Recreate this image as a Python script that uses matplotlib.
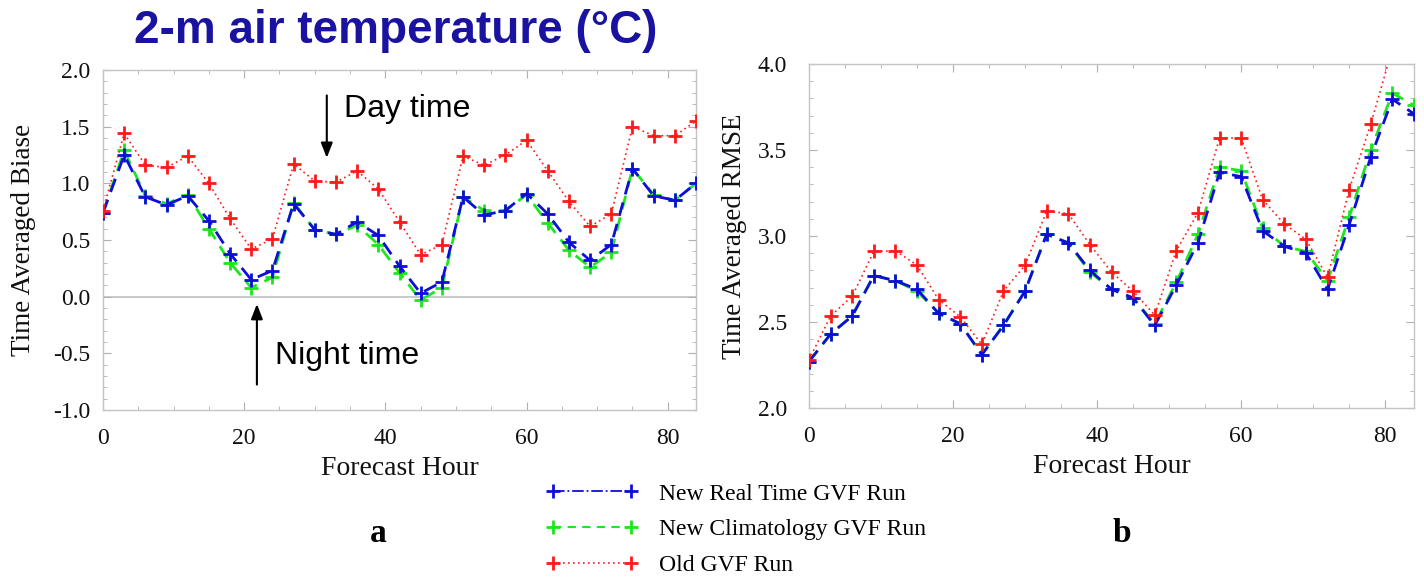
import matplotlib
matplotlib.use("Agg")
import matplotlib.pyplot as plt
from matplotlib.lines import Line2D
from matplotlib.ticker import MultipleLocator

# ---------------- data ----------------
hours = [0, 3, 6, 9, 12, 15, 18, 21, 24, 27, 30, 33, 36, 39, 42,
         45, 48, 51, 54, 57, 60, 63, 66, 69, 72, 75, 78, 81, 84]

real_bias = [0.74, 1.25, 0.88, 0.81, 0.89, 0.67, 0.38, 0.15, 0.23, 0.82, 0.59, 0.55, 0.66, 0.54, 0.27,
             0.03, 0.13, 0.88, 0.72, 0.76, 0.91, 0.73, 0.48, 0.32, 0.46, 1.13, 0.89, 0.85, 1.00]
clim_bias = [0.74, 1.29, 0.89, 0.82, 0.90, 0.60, 0.30, 0.08, 0.17, 0.83, 0.59, 0.55, 0.63, 0.46, 0.21,
             -0.03, 0.08, 0.88, 0.76, 0.76, 0.90, 0.65, 0.41, 0.26, 0.39, 1.13, 0.90, 0.85, 1.00]
old_bias = [0.76, 1.44, 1.16, 1.14, 1.24, 1.00, 0.69, 0.42, 0.51, 1.17, 1.02, 1.01, 1.11, 0.95, 0.66,
            0.37, 0.46, 1.24, 1.16, 1.25, 1.38, 1.11, 0.84, 0.62, 0.73, 1.50, 1.42, 1.42, 1.55]

real_rmse = [2.27, 2.43, 2.535, 2.77, 2.74, 2.69, 2.55, 2.49, 2.31, 2.48, 2.68, 3.01, 2.96, 2.80, 2.69,
             2.64, 2.48, 2.715, 2.96, 3.37, 3.345, 3.03, 2.94, 2.90, 2.69, 3.065, 3.46, 3.795, 3.71]
clim_rmse = [2.27, 2.43, 2.535, 2.77, 2.74, 2.68, 2.55, 2.49, 2.31, 2.48, 2.68, 3.01, 2.96, 2.79, 2.69,
             2.64, 2.49, 2.73, 3.01, 3.40, 3.38, 3.045, 2.94, 2.91, 2.74, 3.11, 3.50, 3.83, 3.76]
old_rmse = [2.28, 2.535, 2.65, 2.91, 2.915, 2.83, 2.63, 2.53, 2.37, 2.68, 2.83, 3.145, 3.13, 2.95, 2.79,
            2.68, 2.54, 2.915, 3.135, 3.57, 3.57, 3.21, 3.07, 2.98, 2.76, 3.27, 3.65, 4.09, 4.12]

series_labels = ["New Real Time GVF Run", "New Climatology GVF Run", "Old GVF Run"]
bias_yticks = [-1.0, -0.5, 0.0, 0.5, 1.0, 1.5, 2.0]
rmse_yticks = [2.0, 2.5, 3.0, 3.5, 4.0]
xticks = [0, 20, 40, 60, 80]

# ---------------- style ----------------
SERIF = ["Liberation Serif", "DejaVu Serif"]
SANS = ["Liberation Sans", "DejaVu Sans"]
BLUE = "#0e0ed8"
GREEN = "#1ee61e"
RED = "#ff1a1a"
FRAME = "#c4c4c4"

W, H = 1424, 579
fig = plt.figure(figsize=(W / 100, H / 100), dpi=100)
fig.patch.set_facecolor("white")


def px_axes(x0, y0, x1, y1):
    return fig.add_axes([x0 / W, 1 - y1 / H, (x1 - x0) / W, (y1 - y0) / H])


def style_axes(ax, ymin, ymax, yticks, ylabel, label_x_px):
    ax.set_xlim(0, 84)
    ax.set_ylim(ymin, ymax)
    ax.set_xticks(xticks)
    ax.set_yticks(yticks)
    ax.set_yticklabels([f"{v:.1f}" for v in yticks])
    ax.xaxis.set_minor_locator(MultipleLocator(5))
    ax.yaxis.set_minor_locator(MultipleLocator(0.1))
    for sp in ax.spines.values():
        sp.set_color(FRAME)
        sp.set_linewidth(1.0)
    ax.tick_params(which="both", direction="in", top=True, right=True,
                   color="#b0b0b0", labelsize=17, labelcolor="#111111")
    ax.tick_params(which="major", length=6, width=0.8)
    ax.tick_params(which="minor", length=3, width=0.6)
    for lab in ax.get_xticklabels() + ax.get_yticklabels():
        lab.set_family(SERIF)
    ax.set_xlabel("Forecast Hour", fontsize=20, family=SERIF, labelpad=5, color="#111111")
    ax.set_ylabel(ylabel, fontsize=19.5, family=SERIF, color="#111111")
    pos = ax.get_position()
    ax.yaxis.set_label_coords((label_x_px - pos.x0 * W) / (pos.width * W), 0.5)


def draw_series(ax, real, clim, old):
    ax.plot(hours, clim, color=GREEN, ls=(0, (5, 3)), lw=2.0, marker="+",
            ms=10, mew=2, zorder=3)
    ax.plot(hours, real, color=BLUE, ls=(0, (5, 3)), lw=2.0, marker="+",
            ms=10, mew=2, zorder=4)
    ax.plot(hours, old, color=RED, ls=(0, (1, 2)), lw=1.2, marker="+",
            ms=10, mew=2, zorder=5)


# ---------------- left panel ----------------
ax1 = px_axes(103, 70, 696, 410)
ax1.axhline(0, color="#c0c0c0", lw=1.2, zorder=1)
draw_series(ax1, real_bias, clim_bias, old_bias)
style_axes(ax1, -1.0, 2.0, bias_yticks, "Time Averaged Biase", 36)
ax1.tick_params(axis="y", pad=9)
ax1.tick_params(axis="x", pad=13)

ax1.annotate("", xy=(31.7, 1.20), xytext=(31.7, 1.80),
             arrowprops=dict(arrowstyle="-|>,head_length=0.9,head_width=0.35",
                             color="black", lw=1.5))
ax1.text(34.2, 1.66, "Day time", fontsize=23, family=SANS, va="center", ha="left")
ax1.annotate("", xy=(21.8, -0.04), xytext=(21.8, -0.80),
             arrowprops=dict(arrowstyle="-|>,head_length=0.9,head_width=0.35",
                             color="black", lw=1.5))
ax1.text(24.3, -0.52, "Night time", fontsize=23, family=SANS, va="center", ha="left")

# ---------------- right panel ----------------
ax2 = px_axes(809, 64, 1414, 408)
draw_series(ax2, real_rmse, clim_rmse, old_rmse)
style_axes(ax2, 2.0, 4.0, rmse_yticks, "Time Averaged RMSE", 747)
ax2.tick_params(axis="y", pad=16)
ax2.tick_params(axis="x", pad=13)

# ---------------- title, legend, panel letters ----------------
fig.text(396 / W, 1 - 31 / H, "2-m air temperature (\u00b0C)", fontsize=33,
         fontweight="bold", family=SANS, color="#1a12a0", ha="center", va="center")

handles = [
    Line2D([], [], color=BLUE, ls="-.", lw=1.3, marker="+", ms=10, mew=2),
    Line2D([], [], color=GREEN, ls=(0, (4, 3)), lw=1.5, marker="+", ms=10, mew=2),
    Line2D([], [], color=RED, ls=(0, (1, 2)), lw=1.2, marker="+", ms=10, mew=2),
]
leg = fig.legend(handles, series_labels, loc="upper left",
                 bbox_to_anchor=(546 / W, 1 - 483 / H), frameon=False,
                 numpoints=2, handlelength=3.9, handletextpad=0.9,
                 labelspacing=0.6, borderpad=0, borderaxespad=0,
                 prop={"family": SERIF, "size": 17})

fig.text(378 / W, 1 - 533 / H, "a", fontsize=24, fontweight="bold", family=SERIF,
         ha="center", va="center")
fig.text(1122 / W, 1 - 533 / H, "b", fontsize=24, fontweight="bold", family=SERIF,
         ha="center", va="center")

fig.savefig("out.png", dpi=100, facecolor="white")
